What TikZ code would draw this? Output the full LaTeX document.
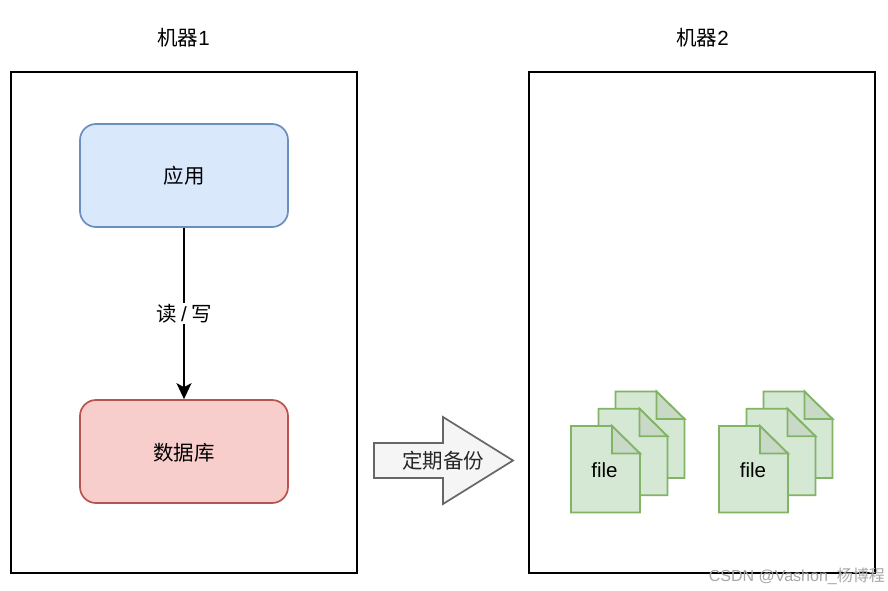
\documentclass[tikz,border=0pt]{standalone}
\usepackage{fontspec}
\setmainfont{Liberation Sans}
\newfontfamily\cjk{Noto Sans CJK SC}
\usetikzlibrary{arrows.meta}
\definecolor{appfill}{HTML}{DAE8FC}
\definecolor{appline}{HTML}{6C8EBF}
\definecolor{dbfill}{HTML}{F8CECC}
\definecolor{dbline}{HTML}{B85450}
\definecolor{filefill}{HTML}{D5E8D4}
\definecolor{filefold}{HTML}{C9D9C8}
\definecolor{fileline}{HTML}{82B366}
\definecolor{backfill}{HTML}{F5F5F5}
\definecolor{backline}{HTML}{666666}
\tikzset{
  label/.style={
    % The text:
    inner sep=1pt,
    font=\fontsize{20.5}{24}\selectfont\cjk
  },
  machine/.style={
    draw=black,line width=2pt,
    minimum width=346pt,minimum height=501.5pt,
    inner sep=0pt
  },
  service/.style={
    rounded corners=16pt,line width=1.7pt,
    minimum width=208pt,minimum height=103pt,
    inner sep=0pt,
    font=\fontsize{20.5}{24}\selectfont\cjk
  },
  sheet/.style={
    line width=1.8pt,draw=fileline,fill=filefill
  },
  pics/filestack/.style={
    code={
      \foreach \dx/\dy in {44.5/34.5,27.5/17.25,0/0}{
        \begin{scope}[shift={(\dx,-\dy)}]
          \draw[sheet] (0,0) -- (41,0) -- (69,27.5) -- (69,86.5) -- (0,86.5) -- cycle;
          \draw[sheet,fill=filefold] (41,0) -- (69,27.5) -- (41,27.5) -- cycle;
        \end{scope}
      }
    }
  }
}

\begin{document}
\begin{tikzpicture}[x=1pt,y=-1pt]
	\useasboundingbox (0,0) rectangle (888,591);
	\fill[white] (0,0) rectangle (888,591);

	% the two machines
	\node[machine] (m1) at (184,322.5) {};
	\node[machine] (m2) at (702,322.5) {};
	\node[label] (m1title) at (183.5,38) {机器{\rmfamily 1}};
	\node[label] (m2title) at (702.5,38) {机器{\rmfamily 2}};

	\node[service,draw=appline,fill=appfill] (app) at (184,175.5) {应用};
	\node[service,draw=dbline,fill=dbfill] (db) at (184,451.5) {\raisebox{-1.5pt}[\height][\depth]{数据库}};
	\draw[-{Stealth[length=16pt,width=15pt,inset=4pt]},line width=1.6pt] (app) -- (db)
		node[pos=0.5,label,fill=white] (rw) {读 {\rmfamily /} 写};

	% backup arrow
	\draw[line width=1.7pt,draw=backline,fill=backfill] (374,443) -- (443,443) -- (443,417)
		-- (513,460.5) -- (443,504) -- (443,478) -- (374,478) -- cycle;
	\node[label,text=black!85] (backup) at (443,460.5) {定期备份};

	% files
	\pic (f1) at (571,426) {filestack};
	\pic (f2) at (719,426) {filestack};
	\node[font=\fontsize{20.5}{24}\selectfont,inner sep=0pt] (file1) at (604.5,470) {file};
	\node[font=\fontsize{20.5}{24}\selectfont,inner sep=0pt] (file2) at (753,470) {file};

	\node[anchor=east,inner sep=0pt,text=black!35,font=\fontsize{16}{18}\selectfont] (mark) at (885,576)
		{CSDN @Vashon\_{\cjk 杨博程}};
\end{tikzpicture}
\end{document}
